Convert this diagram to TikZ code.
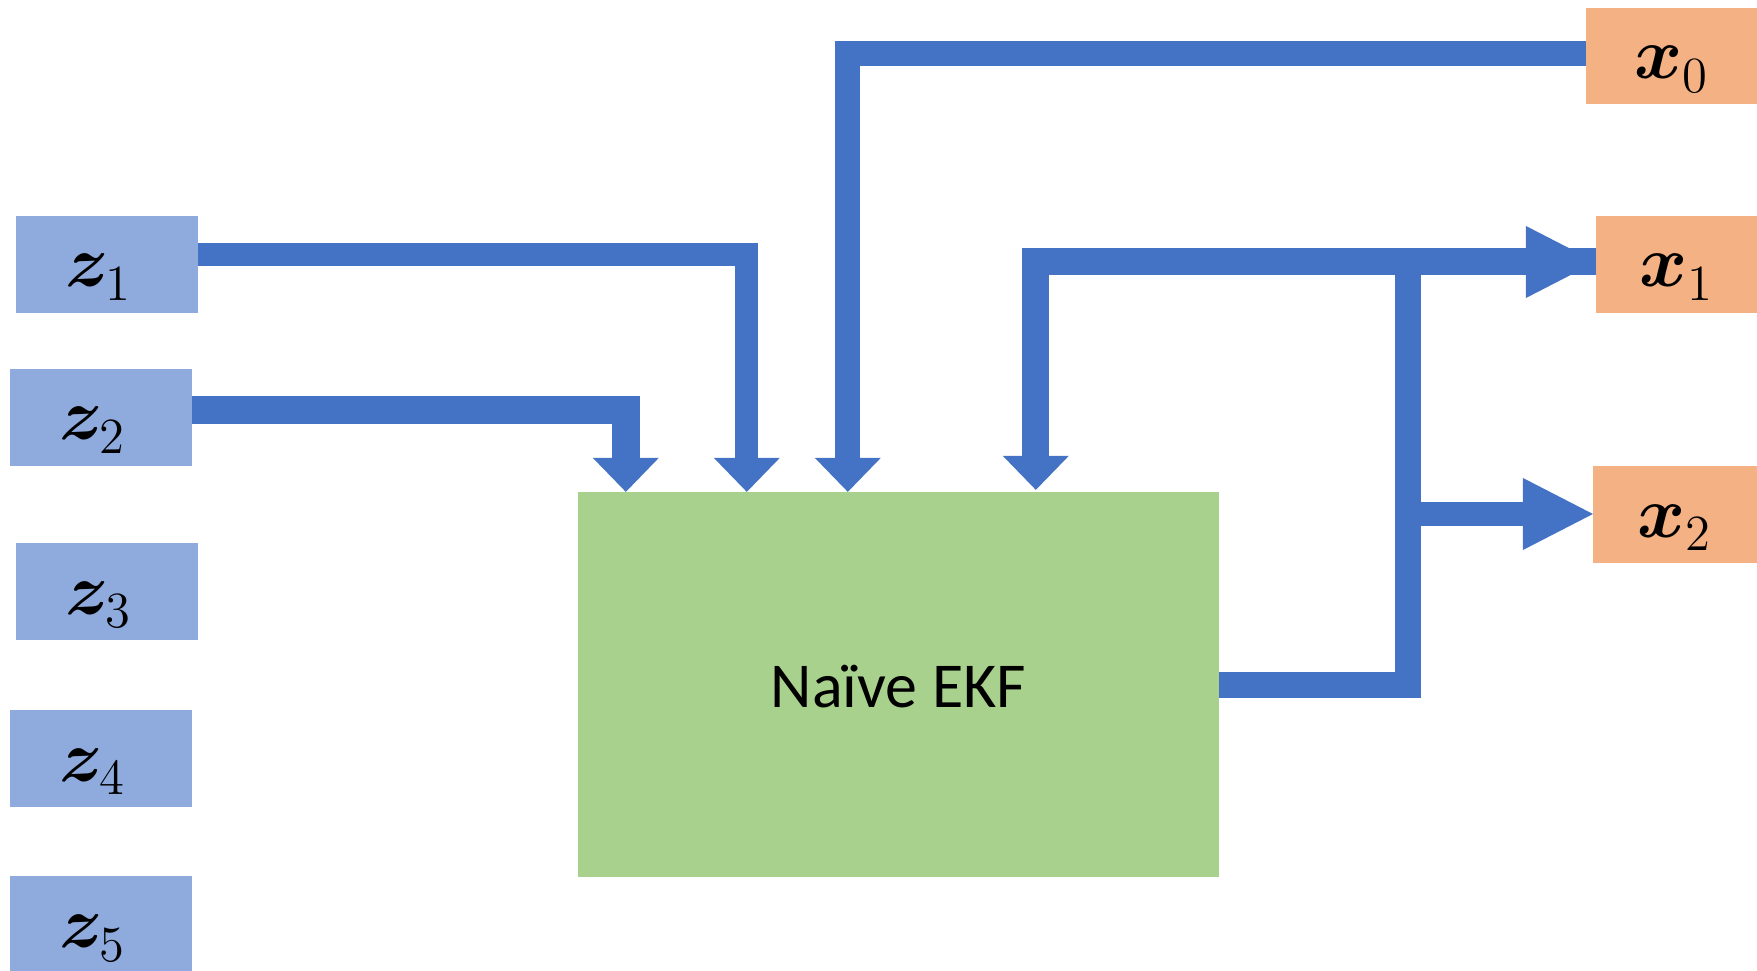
\documentclass[tikz,border=0pt]{standalone}
\usepackage{amsmath,bm}
\usepackage{fontspec}
\newfontfamily\calib{Carlito}
\usetikzlibrary{arrows.meta,calc}
\definecolor{zblue}{HTML}{8FAADC}
\definecolor{lblue}{HTML}{4472C4}
\definecolor{xorange}{HTML}{F4B183}
\definecolor{ekfgreen}{HTML}{A9D18E}
\newcommand\varlab[2]{$\bm{#1}_{\raisebox{-0.03cm}{$\scriptstyle #2$}}$}
\tikzset{
  lbl/.style={inner sep=0pt, outer sep=0pt, minimum height=0.97cm, text height=0.45cm, text depth=0cm, font=\fontsize{21}{24}\selectfont},
  zbox/.style={lbl, fill=zblue, minimum width=1.82cm},
  xbox/.style={lbl, fill=xorange},
  ekfbox/.style={fill=ekfgreen, inner sep=0pt, outer sep=0pt, minimum width=6.41cm, minimum height=3.85cm, font=\calib\fontsize{18.2}{20}\selectfont},
  wire/.style={draw=lblue, line join=miter, line cap=butt},
  downtip/.style={-{Triangle[length=0.34cm, width=0.66cm, line width=0pt]}},
  righttip/.style={-{Triangle[length=0.70cm, width=0.72cm, line width=0pt]}}
}
\begin{document}
\begin{tikzpicture}[x=0.01cm, y=-0.01cm]
\useasboundingbox (0,0) rectangle (1757,971);
% input boxes
\node[zbox] (z1) at (107,264.5) {\varlab{z}{1}\kern0.16cm};
\node[zbox] (z2) at (101,417.5) {\varlab{z}{2}\kern0.16cm};
\node[zbox] (z3) at (107,591.5) {\varlab{z}{3}\kern0.16cm};
\node[zbox] (z4) at (101,758.5) {\varlab{z}{4}\kern0.16cm};
\node[zbox] (z5) at (101,925) {\varlab{z}{5}\kern0.16cm};
% output boxes
\node[xbox, minimum width=1.71cm, minimum height=0.96cm] (x0) at (1671.5,56) {\varlab{x}{0}};
\node[xbox, minimum width=1.61cm] (x1) at (1676.5,264.5) {\varlab{x}{1}};
\node[xbox, minimum width=1.64cm] (x2) at (1675,514.5) {\varlab{x}{2}};
% EKF
\node[ekfbox, text height=0.45cm, text depth=0.0cm] (ekf) at (898.5,684.5) {Naïve EKF};
% junctions
\coordinate (j1) at (1408,262);
\coordinate (j2) at (1408,514);
% connectors
\draw[wire, downtip, line width=0.23cm] ($(z1.east)+(0,-9.5)$) -| ($(ekf.north west)+(169,0)$);
\draw[wire, downtip, line width=0.28cm] ($(z2.east)+(0,-7.5)$) -| ($(ekf.north west)+(48,0)$);
\draw[wire, downtip, line width=0.25cm] ($(x0.west)+(0,-2)$) -| ($(ekf.north west)+(270,0)$);
\draw[wire, line width=0.26cm] ($(ekf.east)+(0,0.5)$) -| (j1);
\draw[wire, line width=0.27cm, postaction={draw, righttip}] (j1) -- ($(x1.west)+(0,-2.5)$);
\draw[wire, downtip, line width=0.27cm] (j1) -| ($(ekf.north west)+(458,-2)$);
\draw[wire, righttip, line width=0.24cm] (j2) -- ($(x2.west)+(0,-0.5)$);
\end{tikzpicture}
\end{document}
